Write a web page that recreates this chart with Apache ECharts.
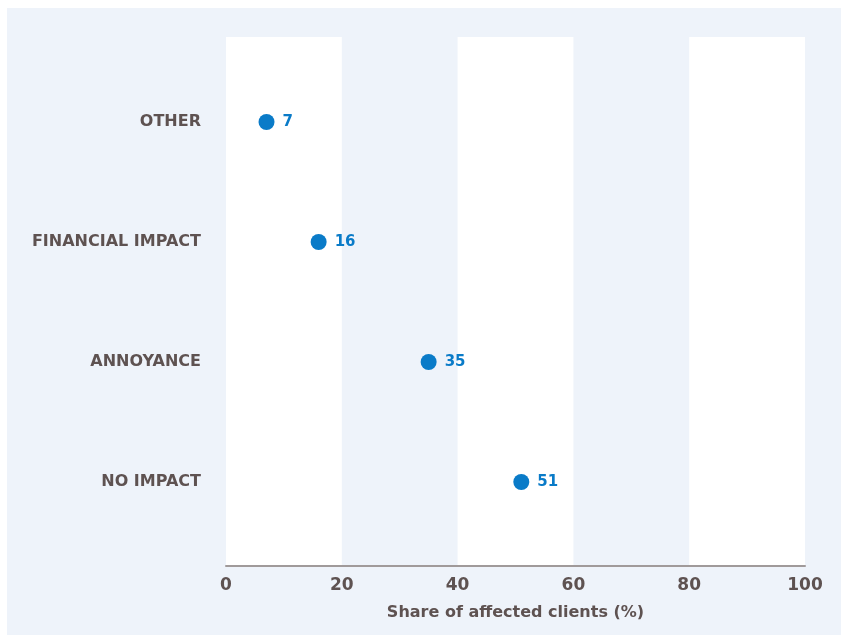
<!DOCTYPE html>
<html>
<head>
<meta charset="utf-8">
<script src="https://cdn.jsdelivr.net/npm/echarts@6/dist/echarts.min.js"></script>
<style>
html,body{margin:0;padding:0;background:#eef3fa;overflow:hidden;}
#c{width:841px;height:635px;}
</style>
</head>
<body>
<div id="c"></div>
<script>
var categories = ['NO IMPACT', 'ANNOYANCE', 'FINANCIAL IMPACT', 'OTHER'];
var values = [51, 35, 16, 7];
var xTicks = [0, 20, 40, 60, 80, 100];

var textColor = '#5e5251';
var dotColor = '#0a7bc8';
var bg = '#eef3fa';
var font = 'DejaVu Sans';

var chart = echarts.init(document.getElementById('c'));
chart.setOption({
  backgroundColor: bg,
  animation: false,
  graphic: [
    { type: 'rect', z: -10, silent: true, shape: { x: 0, y: 0, width: 841, height: 8 }, style: { fill: '#ffffff' } },
    { type: 'rect', z: -10, silent: true, shape: { x: 0, y: 0, width: 7, height: 635 }, style: { fill: '#ffffff' } }
  ],
  grid: [
    { left: 226, right: 36, top: 37, bottom: 69 },
    { left: 226, right: 36, top: 62, bottom: 93 }
  ],
  xAxis: [
    {
      gridIndex: 0, type: 'value', min: 0, max: 100, interval: 20,
      axisLine: { show: true, lineStyle: { color: '#a09a9a', width: 2 } },
      axisTick: { show: false },
      splitLine: { show: false },
      splitArea: { show: true, areaStyle: { color: ['#ffffff', 'rgba(0,0,0,0)'] } },
      axisLabel: { color: textColor, fontFamily: font, fontWeight: 'bold', fontSize: 17, margin: 11 },
      name: 'Share of affected clients (%)', nameLocation: 'middle', nameGap: 39,
      nameTextStyle: { color: textColor, fontFamily: font, fontWeight: 'bold', fontSize: 16 }
    },
    {
      gridIndex: 1, type: 'value', min: 0, max: 100, interval: 20, show: false
    }
  ],
  yAxis: [
    { gridIndex: 0, type: 'value', show: false, splitLine: { show: false } },
    {
      gridIndex: 1, type: 'category', data: categories,
      axisLine: { show: false }, axisTick: { show: false },
      axisLabel: { color: textColor, fontFamily: font, fontWeight: 'bold', fontSize: 16, margin: 25 }
    }
  ],
  series: [{
    type: 'scatter', xAxisIndex: 1, yAxisIndex: 1,
    data: values, symbol: 'circle', symbolSize: 16,
    itemStyle: { color: dotColor, opacity: 1 },
    label: {
      show: true, position: 'right', distance: 8,
      color: dotColor, fontFamily: font, fontWeight: 'bold', fontSize: 15
    }
  }]
});
</script>
</body>
</html>
